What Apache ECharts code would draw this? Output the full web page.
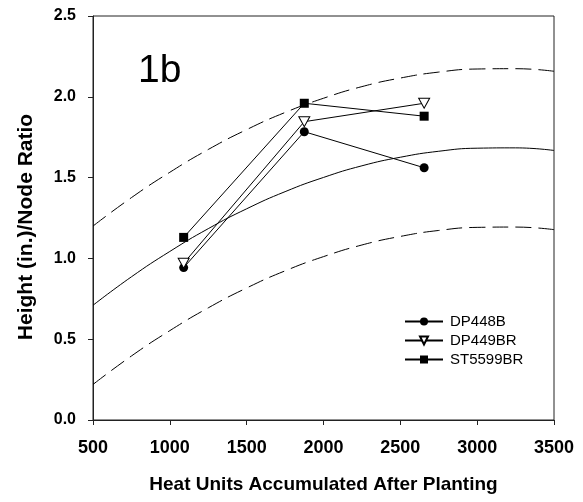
<!DOCTYPE html>
<html>
<head>
<meta charset="utf-8">
<script src="https://cdn.jsdelivr.net/npm/echarts@6/dist/echarts.min.js"></script>
<style>html,body{margin:0;padding:0;background:#fff;}#c{width:583px;height:502px;}</style>
</head>
<body>
<div id="c"></div>
<script>
// Observed points
var heatUnits = [1090, 1875, 2655];
var dp448b = [0.943, 1.784, 1.561];
var dp449br = [0.97, 1.846, 1.96];
var st5599br = [1.13, 1.96, 1.88];

// Regression curve and prediction bands
var curveX = [500, 750, 1000, 1250, 1500, 1750, 2000, 2250, 2500, 2750, 3000, 3250, 3500];
var fitY = [0.710, 0.886, 1.043, 1.184, 1.307, 1.413, 1.501, 1.573, 1.626, 1.663, 1.682, 1.684, 1.668];
var upperY = [1.200, 1.376, 1.533, 1.674, 1.797, 1.903, 1.991, 2.063, 2.116, 2.153, 2.172, 2.174, 2.158];
var lowerY = [0.220, 0.396, 0.553, 0.694, 0.817, 0.923, 1.011, 1.083, 1.136, 1.173, 1.192, 1.194, 1.178];

var xTicks = [500, 1000, 1500, 2000, 2500, 3000, 3500];
var yTicks = [0.0, 0.5, 1.0, 1.5, 2.0, 2.5];

function pairs(xs, ys) { return xs.map(function (x, i) { return [x, ys[i]]; }); }

var FONT = '"Liberation Sans", Arial, sans-serif';
var chart = echarts.init(document.getElementById('c'), null, {renderer: 'canvas'});
var triDown = 'path://M0,0 L10,0 L5,9 Z';

chart.setOption({
  animation: false,
  backgroundColor: '#fff',
  title: {
    text: '1b', left: 133, top: 47,
    textStyle: {fontFamily: FONT, fontSize: 39, fontWeight: 'normal', color: '#000'}
  },
  legend: {
    orient: 'vertical', left: 399, top: 308, itemWidth: 38, itemHeight: 10, itemGap: 2,
    textStyle: {fontFamily: FONT, fontSize: 15, color: '#000', lineHeight: 17, padding: [0, 0, 0, 2]},
    data: ['DP448B', 'DP449BR', 'ST5599BR']
  },
  grid: {left: 93, right: 29, top: 16, bottom: 82, show: true, borderColor: '#222', borderWidth: 1},
  xAxis: {
    type: 'value', min: xTicks[0], max: xTicks[xTicks.length - 1], interval: 500,
    name: 'Heat Units Accumulated After Planting', nameLocation: 'middle', nameGap: 55,
    nameTextStyle: {fontFamily: FONT, fontSize: 19, fontWeight: 'bold', color: '#000'},
    axisLine: {lineStyle: {color: '#222', width: 1}},
    axisTick: {show: true, length: 5, lineStyle: {color: '#222'}},
    axisLabel: {margin: 19, fontFamily: FONT, fontSize: 18, fontWeight: 'bold', color: '#000',
      formatter: function (v) { return String(v); }},
    splitLine: {show: false}
  },
  yAxis: {
    type: 'value', min: yTicks[0], max: yTicks[yTicks.length - 1], interval: 0.5,
    name: 'Height (in.)/Node Ratio', nameLocation: 'middle', nameGap: 56,
    nameTextStyle: {fontFamily: FONT, fontSize: 21, fontWeight: 'bold', color: '#000', padding: [0, 18, 0, 0]},
    axisLine: {lineStyle: {color: '#222', width: 1}},
    axisTick: {show: true, length: 5, lineStyle: {color: '#222'}},
    axisLabel: {margin: 17, fontFamily: FONT, fontSize: 16, fontWeight: 'bold', color: '#000',
      formatter: function (v) { return v.toFixed(1); }},
    splitLine: {show: false}
  },
  series: [
    {type: 'line', name: 'fit', data: pairs(curveX, fitY), smooth: true, showSymbol: false, silent: true,
      lineStyle: {color: '#000', width: 1}, z: 1},
    {type: 'line', name: 'upper', data: pairs(curveX, upperY), smooth: true, showSymbol: false, silent: true,
      lineStyle: {color: '#000', width: 1, type: [16, 7]}, z: 1},
    {type: 'line', name: 'lower', data: pairs(curveX, lowerY), smooth: true, showSymbol: false, silent: true,
      lineStyle: {color: '#000', width: 1, type: [16, 7]}, z: 1},
    {type: 'line', name: 'DP448B', data: pairs(heatUnits, dp448b), symbol: 'circle', symbolSize: 9,
      itemStyle: {color: '#000'}, lineStyle: {color: '#000', width: 1}, z: 3},
    {type: 'line', name: 'DP449BR', data: pairs(heatUnits, dp449br), symbol: triDown, symbolSize: [11, 10],
      itemStyle: {color: '#fff', borderColor: '#000', borderWidth: 1}, lineStyle: {color: '#000', width: 1}, z: 3},
    {type: 'line', name: 'ST5599BR', data: pairs(heatUnits, st5599br), symbol: 'rect', symbolSize: 9,
      itemStyle: {color: '#000'}, lineStyle: {color: '#000', width: 1}, z: 3}
  ]
});
</script>
</body>
</html>
